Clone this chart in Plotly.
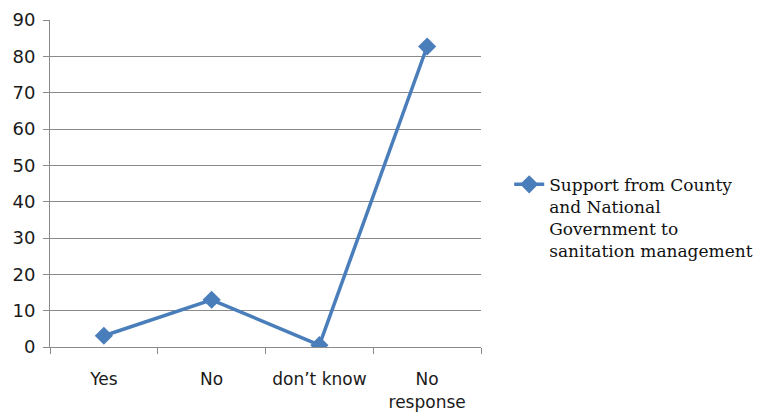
import plotly.graph_objects as go

categories = ["Yes", "No", "don\u2019t know", "No<br>response"]
values = [3.1, 13.0, 0.5, 82.7]
series_name = "Support from County<br>and National<br>Government to<br>sanitation management"
y_ticks = [0, 10, 20, 30, 40, 50, 60, 70, 80, 90]

blue = "#4A7EBB"
grey = "#8A8A8A"

fig = go.Figure()
fig.add_trace(go.Scatter(
    x=categories, y=values, mode="lines+markers", name=series_name,
    line=dict(color=blue, width=3.5),
    marker=dict(symbol="diamond", size=14, color=blue),
    showlegend=True,
))

fig.update_layout(
    width=760, height=414,
    margin=dict(l=50, r=279, t=20, b=67),
    paper_bgcolor="white", plot_bgcolor="white",
    font=dict(family="DejaVu Sans", size=17, color="#1a1a1a"),
    showlegend=True,
    legend=dict(
        xref="container", x=0.670, y=0.551, xanchor="left", yanchor="top",
        valign="top", font=dict(family="DejaVu Serif", size=17, color="#111111"),
        bgcolor="rgba(0,0,0,0)",
    ),
    xaxis=dict(
        type="category", range=[-0.5, 3.5], automargin=False,
        showline=True, linecolor=grey, linewidth=1,
        ticks="outside", tickson="boundaries", ticklen=6, tickcolor=grey,
        ticklabelstandoff=17,
        showgrid=False, zeroline=False,
    ),
    yaxis=dict(
        range=[0, 90], tickvals=y_ticks, automargin=False,
        showline=True, linecolor=grey, linewidth=1,
        ticks="outside", ticklen=6, tickcolor=grey,
        ticklabelstandoff=4, tickfont=dict(size=18),
        showgrid=True, gridcolor=grey, gridwidth=1, zeroline=False,
    ),
)

fig.write_html("out.html", config={"displayModeBar": False},
               post_script="document.body.style.margin='0';")
